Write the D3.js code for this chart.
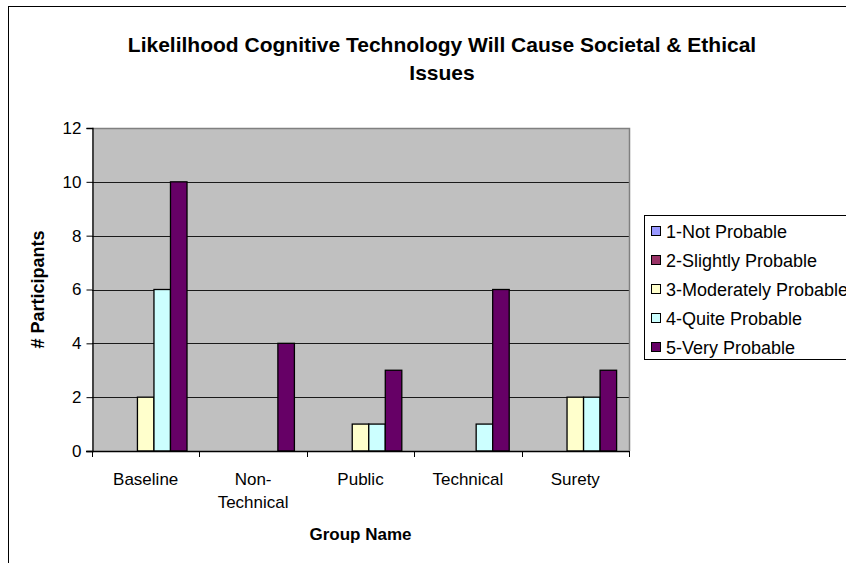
<!DOCTYPE html>
<html>
<head>
<meta charset="utf-8">
<script src="https://cdn.jsdelivr.net/npm/d3@7"></script>
<style>
  html, body { margin: 0; padding: 0; background: #fff; }
  svg { display: block; font-family: "Liberation Sans", Arial, sans-serif; }
</style>
</head>
<body>
<svg id="chart" width="846" height="563"></svg>
<script>
// Survey responses per group, one array per likelihood rating
const groups = ["Baseline", "Non-Technical", "Public", "Technical", "Surety"];
const groupLabelLines = [["Baseline"], ["Non-", "Technical"], ["Public"], ["Technical"], ["Surety"]];
const seriesNames = ["1-Not Probable", "2-Slightly Probable", "3-Moderately Probable", "4-Quite Probable", "5-Very Probable"];
const notProbable        = [0, 0, 0, 0, 0];
const slightlyProbable   = [0, 0, 0, 0, 0];
const moderatelyProbable = [2, 0, 1, 0, 2];
const quiteProbable      = [6, 0, 1, 1, 2];
const veryProbable       = [10, 4, 3, 6, 3];
const seriesColors = ["#9999FF", "#993366", "#FFFFCC", "#CCFFFF", "#660066"];
const yTicks = [0, 2, 4, 6, 8, 10, 12];

const seriesValues = [notProbable, slightlyProbable, moderatelyProbable, quiteProbable, veryProbable];

const svg = d3.select("#chart");
const plot = { left: 92, right: 629, top: 128, bottom: 451 };

// outer chart frame (extends past the right and bottom edges)
svg.append("rect")
  .attr("x", 8.5).attr("y", 6.5)
  .attr("width", 900).attr("height", 700)
  .attr("fill", "#fff").attr("stroke", "#000").attr("stroke-width", 1);

// title
const title = svg.append("text")
  .attr("text-anchor", "middle")
  .attr("font-weight", "bold")
  .attr("font-size", 21)
  .attr("fill", "#000");
title.append("tspan").attr("x", 442).attr("y", 52).text("Likelilhood Cognitive Technology Will Cause Societal & Ethical");
title.append("tspan").attr("x", 442).attr("y", 80).text("Issues");

// scales
const x0 = d3.scaleBand().domain(groups).range([plot.left, plot.right]).paddingInner(0).paddingOuter(0);
// Excel-style gap: 150% of a bar width split around each group of five bars
const barW = x0.bandwidth() / (seriesNames.length + 1.5);
const y = d3.scaleLinear().domain([0, 12]).range([plot.bottom, plot.top]);

// plot background
svg.append("rect")
  .attr("x", plot.left).attr("y", plot.top)
  .attr("width", plot.right - plot.left).attr("height", plot.bottom - plot.top)
  .attr("fill", "#C0C0C0");

// gridlines
svg.append("g")
  .selectAll("line")
  .data(yTicks.filter(t => t > 0 && t < 12))
  .join("line")
  .attr("x1", plot.left).attr("x2", plot.right)
  .attr("y1", d => Math.round(y(d)) + 0.5).attr("y2", d => Math.round(y(d)) + 0.5)
  .attr("stroke", "#1a1a1a").attr("stroke-width", 1);

// plot border (top and right, grey)
svg.append("path")
  .attr("d", `M${plot.left},${plot.top + 0.5}H${plot.right + 0.5}V${plot.bottom}`)
  .attr("fill", "none").attr("stroke", "#808080").attr("stroke-width", 1.5);

// bars
const barData = [];
groups.forEach((g, gi) => {
  seriesValues.forEach((vals, si) => {
    if (vals[gi] > 0) barData.push({ g, si, v: vals[gi] });
  });
});
const groupStart = g => x0(g) + (x0.bandwidth() - barW * seriesNames.length) / 2;
svg.append("g")
  .selectAll("rect")
  .data(barData)
  .join("rect")
  .attr("x", d => groupStart(d.g) + d.si * barW)
  .attr("y", d => y(d.v))
  .attr("width", barW)
  .attr("height", d => y(0) - y(d.v))
  .attr("fill", d => seriesColors[d.si])
  .attr("stroke", "#000")
  .attr("stroke-width", 1.3);

// y axis
const yAxis = d3.axisLeft(y).tickValues(yTicks).tickSize(6).tickPadding(5).tickFormat(d3.format("d"));
const yG = svg.append("g").attr("transform", `translate(${plot.left + 0.5},0)`).call(yAxis);
yG.select(".domain").attr("stroke", "#000").attr("stroke-width", 1.3);
yG.selectAll(".tick line").attr("stroke", "#000");
yG.selectAll(".tick text").attr("font-size", 17).attr("font-family", "Liberation Sans, Arial, sans-serif").attr("fill", "#000");

// x axis: ticks at the group boundaries
const boundaries = groups.map(g => x0(g)).concat([plot.right]);
const xG = svg.append("g");
xG.append("line")
  .attr("x1", plot.left - 6).attr("x2", plot.right)
  .attr("y1", plot.bottom + 0.5).attr("y2", plot.bottom + 0.5)
  .attr("stroke", "#000").attr("stroke-width", 1.3);
xG.selectAll("line.tk")
  .data(boundaries)
  .join("line")
  .attr("class", "tk")
  .attr("x1", d => Math.round(d) + 0.5).attr("x2", d => Math.round(d) + 0.5)
  .attr("y1", plot.bottom).attr("y2", plot.bottom + 6)
  .attr("stroke", "#000");
xG.selectAll("text")
  .data(groups)
  .join("text")
  .attr("text-anchor", "middle")
  .attr("font-size", 17)
  .attr("fill", "#000")
  .each(function (g, i) {
    const t = d3.select(this);
    groupLabelLines[i].forEach((line, li) => {
      t.append("tspan")
        .attr("x", x0(g) + x0.bandwidth() / 2)
        .attr("y", 485 + li * 23)
        .text(line);
    });
  });

// axis titles
svg.append("text")
  .attr("x", (plot.left + plot.right) / 2).attr("y", 540)
  .attr("text-anchor", "middle").attr("font-weight", "bold").attr("font-size", 17)
  .text("Group Name");
svg.append("text")
  .attr("transform", `translate(44,${(plot.top + plot.bottom) / 2}) rotate(-90)`)
  .attr("text-anchor", "middle").attr("font-weight", "bold").attr("font-size", 18)
  .text("# Participants");

// legend
const legend = svg.append("g");
legend.append("rect")
  .attr("x", 644.5).attr("y", 215.5)
  .attr("width", 260).attr("height", 144)
  .attr("fill", "#fff").attr("stroke", "#000").attr("stroke-width", 1);
const items = legend.selectAll("g.item")
  .data(seriesNames)
  .join("g")
  .attr("class", "item")
  .attr("transform", (d, i) => `translate(0,${231 + i * 29})`);
items.append("rect")
  .attr("x", 651.5).attr("y", -4.5)
  .attr("width", 9).attr("height", 9)
  .attr("fill", (d, i) => seriesColors[i])
  .attr("stroke", "#000").attr("stroke-width", 1);
items.append("text")
  .attr("x", 666).attr("y", 6.5)
  .attr("font-size", 18).attr("fill", "#000")
  .text(d => d);
</script>
</body>
</html>
